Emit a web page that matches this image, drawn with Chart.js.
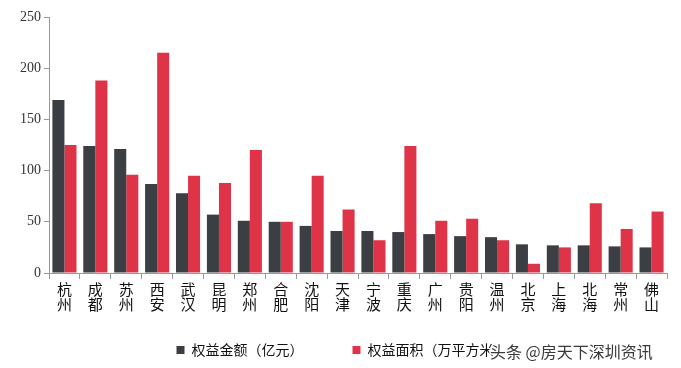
<!DOCTYPE html>
<html>
<head>
<meta charset="utf-8">
<script src="https://cdn.jsdelivr.net/npm/chart.js@4"></script>
<style>
  html, body { margin: 0; padding: 0; background: #fff; }
  #wrap { width: 681px; height: 368px; }
</style>
</head>
<body>
<div id="wrap"><canvas id="barChart" width="681" height="368"></canvas></div>
<script>
const cities = ['杭州', '成都', '苏州', '西安', '武汉', '昆明', '郑州', '合肥', '沈阳', '天津',
                '宁波', '重庆', '广州', '贵阳', '温州', '北京', '上海', '北海', '常州', '佛山'];
const amountValues = [169, 124, 121, 87, 78, 57, 51, 50, 46, 41, 41, 40, 38, 36, 35, 28, 27, 27, 26, 25];
const areaValues = [125, 188, 96, 215, 95, 88, 120, 50, 95, 62, 32, 124, 51, 53, 32, 9, 25, 68, 43, 60];
const seriesNames = ['权益金额（亿元）', '权益面积（万平方米）'];
const yTicks = [0, 50, 100, 150, 200, 250];

const watermark = {
    id: 'watermark',
    afterDraw(chart) {
        const c = chart.ctx;
        c.save();
        c.font = '16px "Noto Sans CJK SC"';
        c.textBaseline = 'middle';
        c.lineWidth = 3;
        c.strokeStyle = '#fff';
        c.strokeText('头条 @房天下深圳资讯', 490, 352);
        c.fillStyle = '#3a3a3a';
        c.fillText('头条 @房天下深圳资讯', 490, 352);
        c.restore();
    }
};

const ctx = document.getElementById('barChart').getContext('2d');
const barChart = new Chart(ctx, {
    type: 'bar',
    data: {
        labels: cities.map(c => c.split('')),
        datasets: [{
            label: seriesNames[0],
            data: amountValues,
            backgroundColor: '#3b3e43',
            categoryPercentage: 0.78,
            barPercentage: 1.0
        }, {
            label: seriesNames[1],
            data: areaValues,
            backgroundColor: '#df3448',
            categoryPercentage: 0.78,
            barPercentage: 1.0
        }]
    },
    options: {
        responsive: false,
        animation: false,
        layout: { padding: { left: 17, right: 14, top: 17, bottom: 1 } },
        scales: {
            x: {
                grid: { drawOnChartArea: false, drawTicks: true, tickLength: 6, color: '#999', offset: true },
                border: { color: '#999' },
                ticks: {
                    color: '#111',
                    maxRotation: 0,
                    autoSkip: false,
                    font: { size: 15, family: '"Noto Sans CJK SC"', lineHeight: 1.0 }
                }
            },
            y: {
                min: 0,
                max: 250,
                afterBuildTicks: axis => { axis.ticks = yTicks.map(v => ({ value: v })); },
                grid: { drawOnChartArea: false, drawTicks: true, tickLength: 5, color: '#999' },
                border: { color: '#999' },
                ticks: {
                    color: '#333',
                    padding: 3,
                    font: { size: 14, family: '"Liberation Serif"' }
                }
            }
        },
        plugins: {
            legend: {
                position: 'bottom',
                labels: {
                    boxWidth: 8,
                    boxHeight: 8,
                    padding: 28,
                    color: '#111',
                    font: { size: 14, family: '"Noto Sans CJK SC"' },
                    generateLabels: chart => {
                        const items = Chart.defaults.plugins.legend.labels.generateLabels(chart);
                        items[0].text = items[0].text + '\u3000\u3000';
                        return items;
                    }
                }
            },
            tooltip: { enabled: false }
        }
    },
    plugins: [watermark]
});
</script>
</body>
</html>
